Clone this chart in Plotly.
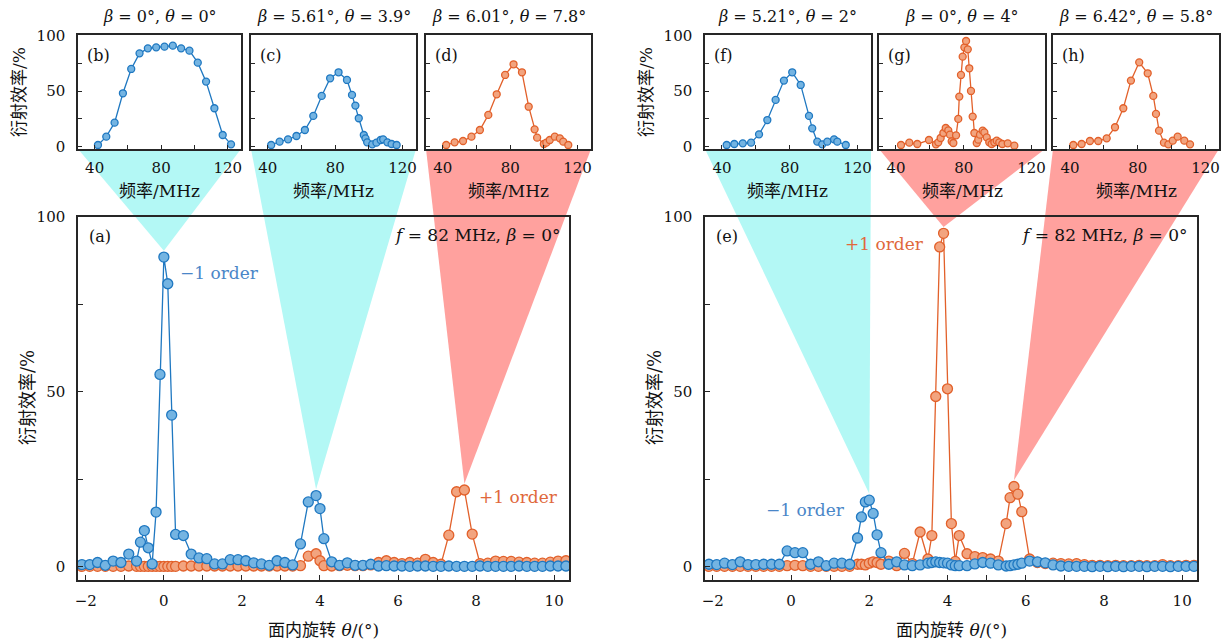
import plotly.graph_objects as go

# ---------------- data ----------------
# panel (a): f = 82 MHz, beta = 0
theta_a = [-2.1, -1.9, -1.7, -1.5, -1.3, -1.1, -0.9, -0.7, -0.6, -0.5, -0.4, -0.3, -0.2, -0.1, 0.0, 0.1,
           0.2, 0.3, 0.5, 0.7, 0.9, 1.1, 1.3, 1.5, 1.7, 1.9, 2.1, 2.3, 2.5, 2.7, 2.9, 3.1, 3.3, 3.5, 3.7,
           3.9, 4.0, 4.1, 4.3, 4.5, 4.7, 4.9, 5.1, 5.3, 5.5, 5.7, 5.9, 6.1, 6.3, 6.5, 6.7, 6.9, 7.1, 7.3,
           7.5, 7.7, 7.9, 8.1, 8.3, 8.5, 8.7, 8.9, 9.1, 9.3, 9.5, 9.7, 9.9, 10.1, 10.3]
minus1_a = [0.6, 0.6, 1.2, 0.4, 1.6, 1.2, 3.6, 1.6, 7.0, 10.3, 5.4, 0.8, 15.6, 54.9, 88.4, 80.8,
            43.3, 9.2, 8.9, 3.6, 2.5, 2.3, 0.8, 0.8, 2.0, 2.0, 1.7, 1.1, 0.8, 0.4, 1.7, 1.2, 0.5, 6.5, 18.5,
            20.3, 16.6, 8.0, 1.4, 0.4, 1.1, 0.4, 0.4, 0.7, 0.2, 0.3, 0.2, 0.2, 0.1, 0.2, 0.2, 0.1, 0.1, 0.2,
            0.1, 0.1, 0.1, 0.2, 0.1, 0.1, 0.1, 0.1, 0.2, 0.1, 0.1, 0.1, 0.2, 0.2, 0.2]
plus1_a = [0.1, 0.1, 0.1, 0.1, 0.1, 0.1, 0.2, 0.1, 0.1, 0.1, 0.1, 0.1, 0.1, 0.1, 0.1, 0.1,
           0.1, 0.1, 0.2, 0.2, 0.2, 0.2, 0.2, 0.2, 0.2, 0.2, 0.2, 0.2, 0.2, 0.2, 0.2, 0.2, 0.2, 0.3, 3.0,
           3.7, 1.7, 0.3, 0.2, 0.3, 0.4, 0.3, 0.3, 0.5, 1.2, 1.7, 1.2, 0.9, 1.2, 1.0, 2.1, 1.2, 0.7, 9.0,
           21.4, 21.9, 9.3, 0.9, 1.0, 1.6, 1.5, 1.5, 1.3, 1.2, 1.0, 1.0, 1.3, 1.6, 1.7]

# panel (e): f = 82 MHz, beta = 0
theta_e = [-2.1, -1.9, -1.7, -1.5, -1.3, -1.1, -0.9, -0.7, -0.5, -0.3, -0.1, 0.1, 0.3, 0.5, 0.7, 0.9,
           1.1, 1.3, 1.5, 1.7, 1.8, 1.9, 2.0, 2.1, 2.2, 2.3, 2.5, 2.7, 2.9, 3.1, 3.3, 3.5, 3.6, 3.7, 3.8,
           3.9, 4.0, 4.1, 4.2, 4.3, 4.5, 4.7, 4.9, 5.1, 5.3, 5.5, 5.6, 5.7, 5.8, 5.9, 6.1, 6.3, 6.5, 6.7,
           6.9, 7.1, 7.3, 7.5, 7.7, 7.9, 8.1, 8.3, 8.5, 8.7, 8.9, 9.1, 9.3, 9.5, 9.7, 9.9, 10.1, 10.3]
minus1_e = [0.7, 0.6, 1.0, 0.6, 1.4, 0.6, 0.6, 0.7, 0.7, 0.7, 4.5, 4.0, 4.0, 0.7, 1.4, 0.3,
            1.0, 1.0, 0.7, 8.2, 14.2, 18.5, 19.0, 15.2, 9.1, 4.0, 0.7, 1.4, 0.5, 0.3, 0.5, 1.0, 1.2, 1.4, 1.2,
            1.1, 1.0, 0.5, 0.3, 0.3, 0.3, 0.8, 1.2, 1.0, 0.5, 0.2, 0.3, 0.5, 0.7, 1.0, 1.6, 1.4, 1.1, 0.5,
            0.2, 0.1, 0.1, 0.1, 0.0, 0.1, 0.0, 0.1, 0.0, 0.1, 0.1, 0.0, 0.1, 0.1, 0.0, 0.1, 0.1, 0.1]
plus1_e = [0.1, 0.1, 0.1, 0.1, 0.1, 0.1, 0.1, 0.1, 0.1, 0.1, 0.3, 0.4, 0.3, 0.1, 0.1, 0.1,
           0.1, 0.1, 0.1, 0.7, 0.7, 0.5, 1.0, 1.4, 1.2, 0.7, 1.6, 0.3, 3.8, 0.9, 9.9, 2.2, 8.9, 48.6, 91.3,
           95.2, 50.8, 12.3, 1.5, 8.9, 3.7, 2.9, 2.6, 2.2, 1.6, 12.3, 19.7, 22.9, 20.7, 15.7, 2.2, 1.2, 0.9, 1.0,
           0.9, 0.8, 0.9, 0.6, 0.4, 0.4, 0.3, 0.4, 0.3, 0.3, 0.4, 0.3, 0.3, 0.6, 0.3, 0.3, 0.4, 0.4]

# insets: frequency (MHz) vs efficiency (%)
freq_b = [42, 47, 52, 57, 62, 67, 72, 77, 82, 87, 92, 97, 102, 107, 112, 117, 122]
eff_b = [1.5, 9.0, 21.6, 48.1, 70.0, 84.1, 88.6, 89.5, 90.1, 91.0, 88.6, 86.5, 75.7, 58.6, 34.6, 10.5, 2.1]

freq_c = [42, 47, 52, 57, 62, 67, 72, 77, 82, 87, 90, 92, 94, 97, 98, 99, 102, 104.5, 107, 108.5, 111, 113.5, 116.5]
eff_c = [1.5, 4.5, 6.6, 9.6, 15.0, 27.7, 45.7, 61.6, 67.0, 60.1, 46.6, 37.0, 25.6, 10.5, 7.5, 3.9, 2.1, 3.6, 6.0, 6.6, 3.9, 2.4, 1.5]

freq_d = [42, 47, 52, 57, 62, 67, 72, 77, 82, 87, 91, 94.5, 96, 100, 101.5, 103.5, 106.5, 109.5, 111.5, 114.5]
eff_d = [1.5, 3.9, 5.1, 9.0, 15.0, 28.6, 47.2, 64.6, 74.2, 67.0, 36.0, 15.6, 8.1, 2.4, 3.6, 6.0, 9.0, 7.5, 4.5, 1.5]

freq_f = [42.8, 47.3, 52.3, 57.2, 61.9, 66.8, 71.7, 76.6, 81.5, 86.5, 91.4, 93.3, 96.3, 99.2, 102.2, 106.2, 108.1, 113.1]
eff_f = [1.5, 2.4, 3.0, 3.6, 11.1, 24.0, 42.1, 59.5, 67.0, 55.6, 27.7, 16.5, 4.5, 2.1, 4.5, 6.6, 4.5, 1.5]

freq_g = [43.0, 47.9, 52.6, 59.5, 63.6, 65.0, 66.4, 68.0, 69.4, 70.9, 71.9, 72.9, 73.9, 75.5, 76.8, 77.4,
          78.4, 79.4, 80.4, 81.4, 82.4, 83.3, 84.3, 85.3, 86.3, 87.7, 88.6, 89.6, 91.2, 92.2, 93.6, 95.1,
          96.5, 98.1, 99.5, 101.0, 102.8, 106.0, 109.9]
eff_g = [1.5, 3.6, 2.4, 6.0, 2.1, 3.9, 7.8, 12.3, 16.8, 14.7, 10.8, 4.8, 3.3, 10.2, 25.0, 45.1,
         64.6, 81.1, 89.5, 95.2, 87.7, 70.6, 50.2, 27.1, 12.3, 3.3, 6.3, 10.8, 14.4, 12.9, 8.4, 3.9,
         2.4, 3.9, 5.4, 3.9, 2.4, 3.0, 0.9]

freq_h = [42.0, 46.9, 51.8, 56.7, 61.7, 66.6, 71.5, 76.0, 80.9, 85.9, 89.2, 90.8, 92.6, 95.5, 98.1, 100.7, 103.6, 107.5, 110.9]
eff_h = [1.5, 2.4, 5.1, 5.1, 7.5, 17.5, 34.6, 59.5, 76.0, 66.1, 45.7, 29.5, 14.4, 3.6, 2.1, 5.4, 9.0, 5.4, 2.1]

inset_titles = ["<i>β</i> = 0°, <i>θ</i> = 0°", "<i>β</i> = 5.61°, <i>θ</i> = 3.9°", "<i>β</i> = 6.01°, <i>θ</i> = 7.8°",
                "<i>β</i> = 5.21°, <i>θ</i> = 2°", "<i>β</i> = 0°, <i>θ</i> = 4°", "<i>β</i> = 6.42°, <i>θ</i> = 5.8°"]
inset_tags = ["(b)", "(c)", "(d)", "(f)", "(g)", "(h)"]
peak_theta = [0.0, 3.9, 7.7, 2.0, 3.9, 5.7]

# ---------------- style / layout ----------------
W, H = 1228, 643
FONT = "'DejaVu Serif', 'Noto Sans CJK SC', serif"
BLUE_LINE, BLUE_FILL = "#1f78c1", "#74b4e2"
ORANGE_LINE, ORANGE_FILL = "#e2602a", "#f2a47f"
CYAN_TRI, RED_TRI = "#b3f8f5", "#ffa19e"
FRAME = "#262626"

def fx(px):
    return px / W

def fy(py):
    return 1 - py / H

MAIN_X = {"a": (78, 569), "e": (705, 1197)}
MAIN_Y = (216.5, 580)
MAIN_XR = [-2.2, 10.38]
MAIN_YR = [-3.8, 100]
INSET_X = [(78, 241), (251, 416), (426, 591), (705, 871), (879, 1045), (1053, 1219)]
INSET_Y = (35, 149)
INSET_XR = [30, 128]
INSET_YR = [-2.1, 100.6]

fig = go.Figure()

def add_series(x, y, line, fill, xa, ya, msize, lw):
    fig.add_trace(go.Scatter(
        x=x, y=y, mode="lines+markers", xaxis=xa, yaxis=ya, showlegend=False,
        line=dict(color=line, width=lw),
        marker=dict(size=msize, color=fill, line=dict(color=line, width=1.3)),
    ))

# main panels
add_series(theta_a, plus1_a, ORANGE_LINE, ORANGE_FILL, "x", "y", 10, 1.3)
add_series(theta_a, minus1_a, BLUE_LINE, BLUE_FILL, "x", "y", 10, 1.3)
add_series(theta_e, plus1_e, ORANGE_LINE, ORANGE_FILL, "x2", "y2", 10, 1.3)
add_series(theta_e, minus1_e, BLUE_LINE, BLUE_FILL, "x2", "y2", 10, 1.3)

inset_data = [(freq_b, eff_b, "b"), (freq_c, eff_c, "b"), (freq_d, eff_d, "o"),
              (freq_f, eff_f, "b"), (freq_g, eff_g, "o"), (freq_h, eff_h, "o")]
for i, (fx_, fy_, c) in enumerate(inset_data):
    line, fill = (BLUE_LINE, BLUE_FILL) if c == "b" else (ORANGE_LINE, ORANGE_FILL)
    add_series(fx_, fy_, line, fill, "x%d" % (i + 3), "y%d" % (i + 3), 7, 1.3)

tickfont = dict(family=FONT, size=15, color="#111")

def axis_common():
    return dict(showline=True, mirror=True, linecolor=FRAME, linewidth=1.5, showgrid=False,
                zeroline=False, ticks="inside", tickcolor=FRAME, tickwidth=1.2, tickfont=tickfont,
                automargin=False)

lay = {}
for k, name in (("", "a"), ("2", "e")):
    x0, x1 = MAIN_X[name]
    xa = axis_common()
    xa.update(domain=[fx(x0), fx(x1)], range=MAIN_XR, anchor="y" + k, tick0=0, dtick=2, ticklen=5,
              minor=dict(dtick=1, tick0=0, ticks="inside", ticklen=5, tickcolor=FRAME, tickwidth=1.2),
              ticklabelstandoff=6)
    ya = axis_common()
    ya.update(domain=[fy(MAIN_Y[1]), fy(MAIN_Y[0])], range=MAIN_YR, anchor="x" + k, tick0=0, dtick=50,
              ticklen=5, minor=dict(dtick=25, tick0=0, ticks="inside", ticklen=5, tickcolor=FRAME, tickwidth=1.2),
              ticklabelstandoff=8)
    lay["xaxis" + k] = xa
    lay["yaxis" + k] = ya

for i, (x0, x1) in enumerate(INSET_X):
    n = str(i + 3)
    xa = axis_common()
    xa.update(domain=[fx(x0), fx(x1)], range=INSET_XR, anchor="y" + n, tick0=0, dtick=40, ticklen=4,
              minor=dict(dtick=20, tick0=0, ticks="inside", ticklen=4, tickcolor=FRAME, tickwidth=1.2),
              ticklabelstandoff=4)
    ya = axis_common()
    ya.update(domain=[fy(INSET_Y[1]), fy(INSET_Y[0])], range=INSET_YR, anchor="x" + n, tick0=0, dtick=50,
              ticklen=4, minor=dict(dtick=25, tick0=0, ticks="inside", ticklen=4, tickcolor=FRAME, tickwidth=1.2),
              showticklabels=(i in (0, 3)), ticklabelstandoff=8)
    lay["xaxis" + n] = xa
    lay["yaxis" + n] = ya

# connector triangles from each inset to its peak in the main panel
links = [(0, "a", theta_a, minus1_a, CYAN_TRI), (1, "a", theta_a, minus1_a, CYAN_TRI),
         (2, "a", theta_a, plus1_a, RED_TRI), (3, "e", theta_e, minus1_e, CYAN_TRI),
         (4, "e", theta_e, plus1_e, RED_TRI), (5, "e", theta_e, plus1_e, RED_TRI)]
shapes = []
for (i, panel, xs, ys, col) in links:
    th = peak_theta[i]
    val = ys[xs.index(th)] + 1.8
    mx0, mx1 = MAIN_X[panel]
    apx = fx(mx0) + (th - MAIN_XR[0]) / (MAIN_XR[1] - MAIN_XR[0]) * (fx(mx1) - fx(mx0))
    apy = fy(MAIN_Y[1]) + (val - MAIN_YR[0]) / (MAIN_YR[1] - MAIN_YR[0]) * (fy(MAIN_Y[0]) - fy(MAIN_Y[1]))
    x0, x1 = INSET_X[i]
    yb = fy(INSET_Y[1])
    path = "M %.5f,%.5f L %.5f,%.5f L %.5f,%.5f Z" % (fx(x0), yb, fx(x1), yb, apx, apy)
    shapes.append(dict(type="path", path=path, xref="paper", yref="paper", fillcolor=col,
                       line=dict(width=0), layer="below"))

ann = []

def text(px, py, s, size=16, color="#111", xanchor="center", angle=0):
    ann.append(dict(x=fx(px), y=fy(py), xref="paper", yref="paper", text=s, showarrow=False,
                    xanchor=xanchor, yanchor="middle", textangle=angle,
                    font=dict(family=FONT, size=size, color=color)))

for i, (x0, x1) in enumerate(INSET_X):
    text((x0 + x1) / 2, 16, inset_titles[i], size=16)
    text(x0 + 7, 55, inset_tags[i], size=16, xanchor="left")
    text((x0 + x1) / 2, 191, "频率/MHz", size=17)

text(19, 92, "衍射效率/%", size=17, angle=-90)
text(646, 92, "衍射效率/%", size=17, angle=-90)
text(27, 398, "衍射效率/%", size=18, angle=-90)
text(654, 398, "衍射效率/%", size=18, angle=-90)
text(323, 630, "面内旋转 <i>θ</i>/(°)", size=17)
text(951, 630, "面内旋转 <i>θ</i>/(°)", size=17)

text(87, 236, "(a)", xanchor="left")
text(714, 236, "(e)", xanchor="left")
text(563, 235, "<i>f</i> = 82 MHz, <i>β</i> = 0°", size=17, xanchor="right")
text(1190, 235, "<i>f</i> = 82 MHz, <i>β</i> = 0°", size=17, xanchor="right")
text(178, 273, "−1 order", size=17, color="#4a86c8", xanchor="left")
text(477, 497, "+1 order", size=17, color="#e0683c", xanchor="left")
text(926, 244, "+1 order", size=17, color="#e0683c", xanchor="right")
text(764, 510, "−1 order", size=17, color="#4a86c8", xanchor="left")

fig.update_layout(
    width=W, height=H, margin=dict(l=0, r=0, t=0, b=0),
    paper_bgcolor="white", plot_bgcolor="rgba(0,0,0,0)",
    font=dict(family=FONT, size=16, color="#111"),
    shapes=shapes, annotations=ann, **lay,
)

fig.write_html("out.html", config={"displayModeBar": False},
               post_script="document.body.style.margin='0';document.body.style.overflow='hidden';")
